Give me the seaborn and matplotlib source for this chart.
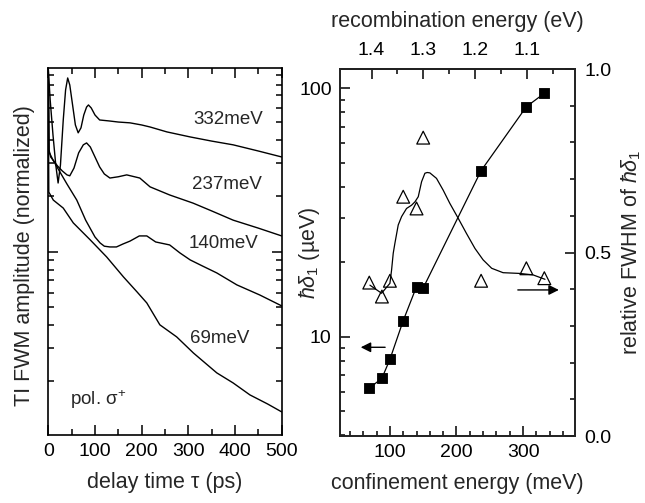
import numpy as np
import pandas as pd
import matplotlib
matplotlib.use("Agg")
import matplotlib.pyplot as plt
import seaborn as sns
from matplotlib.ticker import MultipleLocator, LogLocator, NullFormatter, FixedLocator, FixedFormatter

sns.set_theme(style="ticks")
plt.rcParams["font.family"] = ["Liberation Sans", "DejaVu Sans"]
plt.rcParams["mathtext.fontset"] = "custom"
plt.rcParams["mathtext.rm"] = "Liberation Sans"
plt.rcParams["mathtext.it"] = "Liberation Sans:italic"
plt.rcParams["mathtext.bf"] = "Liberation Sans:bold"

# ---------------- left panel data: TI FWM traces (normalized) ----------------
t_332 = [0, 4, 10, 16, 21, 26, 32, 37, 41.5, 46, 52, 58, 64, 70, 76, 82, 86, 92, 100,
         110, 130, 150, 175, 200, 218, 254, 304, 350, 396, 450, 500]
a_332 = [0.97, 0.661, 0.428, 0.294, 0.235, 0.294, 0.515, 0.748, 0.869, 0.796, 0.621, 0.484,
         0.439, 0.467, 0.548, 0.605, 0.621, 0.598, 0.548, 0.515, 0.509, 0.502, 0.497, 0.484,
         0.472, 0.444, 0.417, 0.396, 0.378, 0.350, 0.325]

t_237 = [0, 1.5, 5, 10, 20, 30, 40, 46, 55, 65, 75, 82, 90, 100, 110, 120, 132, 150, 168,
         196, 218, 260, 310, 350, 396, 450, 500]
a_237 = [0.97, 0.355, 0.325, 0.313, 0.290, 0.273, 0.260, 0.257, 0.283, 0.342, 0.378, 0.387,
         0.368, 0.325, 0.287, 0.263, 0.250, 0.254, 0.260, 0.250, 0.224, 0.2025, 0.183, 0.166,
         0.148, 0.134, 0.1216]

t_140 = [0, 1.5, 10, 20, 40, 61, 80, 100, 111, 120, 132, 146, 160, 175, 195, 211, 230, 260,
         282, 304, 330, 361, 404, 453, 500]
a_140 = [0.97, 0.346, 0.313, 0.283, 0.232, 0.190, 0.148, 0.120, 0.1114, 0.107, 0.106, 0.106,
         0.110, 0.114, 0.1216, 0.1216, 0.1128, 0.1087, 0.0984, 0.0902, 0.0837, 0.0767, 0.0661,
         0.0583, 0.0509]

t_69 = [0, 1, 10.7, 32, 53.5, 90, 125, 161, 190, 211, 239, 275, 311, 361, 396, 432, 470, 500]
a_69 = [0.97, 0.210, 0.190, 0.172, 0.143, 0.1156, 0.0936, 0.0730, 0.0606, 0.0528, 0.0402,
        0.0346, 0.0283, 0.0221, 0.0195, 0.0168, 0.0150, 0.0136]

trace_labels = ["332meV", "237meV", "140meV", "69meV"]
label_t = [310, 307, 300, 303]
label_amp = [0.515, 0.2296, 0.111, 0.034]

# ---------------- right panel data ----------------
conf_energy = [69, 88, 100, 120, 140, 150, 237, 305, 332]          # meV
hbar_delta = [6.2, 6.8, 8.1, 11.6, 15.9, 15.7, 46.6, 84.3, 95.5]    # ueV (squares)
rel_fwhm = [0.418, 0.380, 0.423, 0.652, 0.620, 0.813, 0.423, 0.457, 0.430]  # triangles

fit_fwhm_x = [70, 87.5, 100, 102.5, 105, 107.5, 112.5, 117.6, 125, 132.6, 137.6, 142.6, 147.6,
              152.6, 156, 160, 170, 180, 190, 202.7, 215, 227.8, 240, 252.9, 270, 295, 315, 333]
fit_fwhm_y = [0.411, 0.389, 0.416, 0.452, 0.498, 0.525, 0.575, 0.598, 0.620, 0.629, 0.638, 0.652,
              0.693, 0.716, 0.718, 0.717, 0.702, 0.670, 0.634, 0.593, 0.552, 0.511, 0.480, 0.457,
              0.445, 0.443, 0.439, 0.427]

# recombination energy (eV) = REC_A - REC_B * confinement energy (meV)
REC_A = 1.4933
REC_B = 0.001287
rec_ticks = [1.4, 1.3, 1.2, 1.1]
rec_minor = [1.35, 1.25, 1.15, 1.05]

arrow_left = [(97, 9.06), (52, 9.06)]
arrow_right = [(288, 0.398), (358, 0.398)]

FS = 14      # tick labels
FL = 15.5    # axis labels
FT = 13.5    # annotations

fig = plt.figure(figsize=(6.45, 5.03), dpi=100)
axL = fig.add_axes([0.0749, 0.1352, 0.3618, 0.7290])
axR = fig.add_axes([0.5271, 0.1332, 0.3643, 0.7296])

for ax in (axL, axR):
    for s in ax.spines.values():
        s.set_linewidth(1.2)
        s.set_color("black")

# ---------------- left panel ----------------
frames = []
for name, t, a in zip(trace_labels, [t_332, t_237, t_140, t_69], [a_332, a_237, a_140, a_69]):
    frames.append(pd.DataFrame({"t": t, "amp": a, "curve": name}))
df = pd.concat(frames, ignore_index=True)
sns.lineplot(data=df, x="t", y="amp", units="curve", estimator=None, sort=False,
             color="black", lw=1.0, ax=axL, legend=False)
axL.set_yscale("log")
axL.set_xlim(0, 500)
axL.set_ylim(0.0102, 0.98)
axL.xaxis.set_major_locator(MultipleLocator(100))
axL.xaxis.set_minor_locator(MultipleLocator(50))
axL.yaxis.set_major_locator(LogLocator(base=10))
axL.yaxis.set_minor_locator(LogLocator(base=10, subs=np.arange(2, 10)))
axL.yaxis.set_major_formatter(NullFormatter())
axL.yaxis.set_minor_formatter(NullFormatter())
axL.tick_params(which="both", direction="in", top=True, right=True, left=True, bottom=True,
                labelleft=False, labelsize=FS, pad=6, colors="black", width=1.1)
axL.tick_params(which="major", length=7)
axL.tick_params(which="minor", length=4)
axL.set_xlabel("delay time τ (ps)", fontsize=FL)
axL.set_ylabel("TI FWM amplitude (normalized)", fontsize=FL)
axL.xaxis.set_label_coords(0.5, -0.1, transform=axL.transAxes)
axL.yaxis.set_label_coords(-0.057, 0.49, transform=axL.transAxes)
for lab, tx, ty in zip(trace_labels, label_t, label_amp):
    axL.text(tx, ty, lab, fontsize=FT, va="center", ha="left")
axL.text(46, 0.0158, "pol. σ$^{+}$", fontsize=FT, va="center", ha="left")

# ---------------- right panel ----------------
sns.lineplot(x=conf_energy, y=hbar_delta, color="black", lw=0.9, ax=axR, sort=False,
             estimator=None)
sns.scatterplot(x=conf_energy, y=hbar_delta, marker="s", color="black", edgecolor="black",
                s=60, ax=axR, zorder=3, legend=False)
axR.set_yscale("log")
axR.set_xlim(25, 378)
axR.set_ylim(3.98, 119.6)
axR.xaxis.set_major_locator(FixedLocator([100, 200, 300]))
axR.xaxis.set_minor_locator(MultipleLocator(20))
axR.yaxis.set_major_locator(FixedLocator([10, 100]))
axR.yaxis.set_major_formatter(FixedFormatter(["10", "100"]))
axR.yaxis.set_minor_locator(LogLocator(base=10, subs=np.arange(2, 10)))
axR.yaxis.set_minor_formatter(NullFormatter())
axR.tick_params(which="both", direction="in", top=False, right=False, labelsize=FS, pad=6,
                colors="black", width=1.1)
axR.tick_params(which="major", length=7)
axR.tick_params(which="minor", length=3.5)
axR.set_xlabel("confinement energy (meV)", fontsize=FL)
axR.set_ylabel(r"$\hbar\delta_1$ (µeV)", fontsize=FL)
axR.xaxis.set_label_coords(0.5, -0.1, transform=axR.transAxes)
axR.yaxis.set_label_coords(-0.075, 0.5, transform=axR.transAxes)
axR.annotate("", xy=arrow_left[1], xytext=arrow_left[0],
             arrowprops=dict(arrowstyle="-|>", color="black", lw=1.0, mutation_scale=15))

axR2 = axR.twinx()
sns.lineplot(x=fit_fwhm_x, y=fit_fwhm_y, color="black", lw=0.9, ax=axR2, sort=False,
             estimator=None)
sns.scatterplot(x=conf_energy, y=rel_fwhm, marker="^", facecolor="none", edgecolor="black",
                linewidth=0.9, s=85, ax=axR2, zorder=3, legend=False)
axR2.set_ylim(0, 1)
axR2.yaxis.set_major_locator(FixedLocator([0.0, 0.5, 1.0]))
axR2.yaxis.set_major_formatter(FixedFormatter(["0.0", "0.5", "1.0"]))
axR2.yaxis.set_minor_locator(MultipleLocator(0.1))
axR2.tick_params(which="both", direction="in", labelsize=FS, pad=7, colors="black", width=1.1)
axR2.tick_params(which="major", length=7)
axR2.tick_params(which="minor", length=3.5)
axR2.set_ylabel(r"relative FWHM of $\hbar\delta_1$", fontsize=FL)
axR2.yaxis.set_label_coords(1.19, 0.5, transform=axR2.transAxes)
axR2.annotate("", xy=arrow_right[1], xytext=arrow_right[0],
              arrowprops=dict(arrowstyle="-|>", color="black", lw=1.0, mutation_scale=15))
for s in axR2.spines.values():
    s.set_linewidth(1.2)

sec = axR.secondary_xaxis("top", functions=(lambda e: REC_A - REC_B * e,
                                            lambda r: (REC_A - r) / REC_B))
sec.set_xticks(rec_ticks)
sec.set_xticklabels([f"{v:.1f}" for v in rec_ticks])
sec.xaxis.set_minor_locator(FixedLocator(rec_minor))
sec.tick_params(which="both", direction="in", labelsize=FS, pad=7, colors="black", width=1.1)
sec.tick_params(which="major", length=7)
sec.tick_params(which="minor", length=3.5)
sec.set_xlabel("recombination energy (eV)", fontsize=FL, labelpad=11)

fig.savefig("out.png", dpi=100)
